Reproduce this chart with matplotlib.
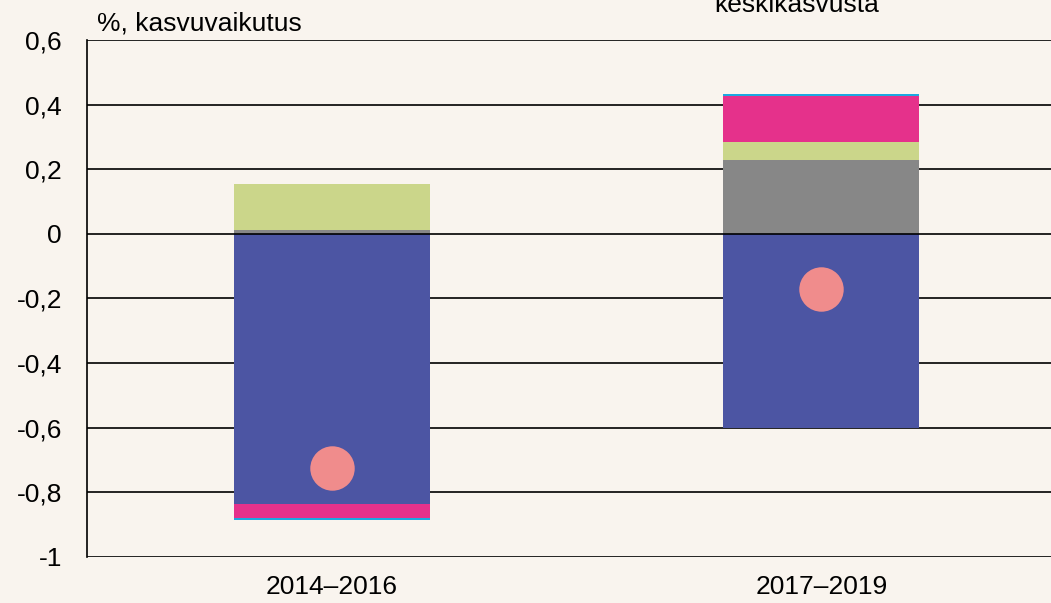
import matplotlib
matplotlib.use("Agg")
import matplotlib.pyplot as plt
import numpy as np

plt.rcParams['font.family'] = ['Liberation Sans', 'DejaVu Sans']

categories = ["2014–2016", "2017–2019"]
# stacked components (positive and negative parts)
blue = [-0.835, -0.60]
gray = [0.012, 0.228]
green = [0.143, 0.055]
pink = [-0.044, 0.144]
cyan = [-0.007, 0.006]
dots = [-0.725, -0.172]

yticks = [-1, -0.8, -0.6, -0.4, -0.2, 0, 0.2, 0.4, 0.6]
ytick_labels = ["-1", "-0,8", "-0,6", "-0,4", "-0,2", "0", "0,2", "0,4", "0,6"]

bg = "#F9F4EE"
c_blue = "#4C55A3"
c_gray = "#878787"
c_green = "#CBD68A"
c_pink = "#E5318B"
c_cyan = "#1BA9E1"
c_dot = "#F08C8C"

fs = 19

fig = plt.figure(figsize=(10.51, 6.03), dpi=100, facecolor=bg)
ax = fig.add_axes([0.0828, 0.0763, 0.9315, 0.8574], facecolor=bg)

x = np.arange(len(categories))
w = 0.4

pos = np.zeros(len(x))
neg = np.zeros(len(x))
for vals, col in [(blue, c_blue), (gray, c_gray), (green, c_green), (pink, c_pink), (cyan, c_cyan)]:
    vals = np.array(vals)
    bottoms = np.where(vals >= 0, pos, neg)
    ax.bar(x, vals, width=w, bottom=bottoms, color=col, zorder=3, linewidth=0)
    pos = pos + np.where(vals >= 0, vals, 0)
    neg = neg + np.where(vals < 0, vals, 0)

ax.plot(x, dots, 'o', color=c_dot, markersize=32, markeredgewidth=0, zorder=4)

ax.set_xlim(-0.5, 1.5)
ax.set_ylim(-1, 0.6)
ax.set_yticks(yticks)
ax.set_yticklabels(ytick_labels)
ax.set_xticks(x)
ax.set_xticklabels(categories)
ax.tick_params(axis='both', length=0, labelsize=fs)
ax.tick_params(axis='y', pad=18)
ax.tick_params(axis='x', pad=13)

for yv in yticks:
    ax.axhline(yv, color="black", linewidth=1.2, zorder=2 if yv != 0 else 3.5)
for s in ['top', 'right', 'bottom']:
    ax.spines[s].set_visible(False)
ax.spines['left'].set_linewidth(1.2)

fig.text(97 / 1051, 1 - 30 / 603, "%, kasvuvaikutus", fontsize=fs, ha='left', va='baseline')
fig.text(797 / 1051, 1 - 12 / 603, "keskikasvusta", fontsize=fs, ha='center', va='baseline')

fig.savefig("out.png", dpi=100, facecolor=bg)
